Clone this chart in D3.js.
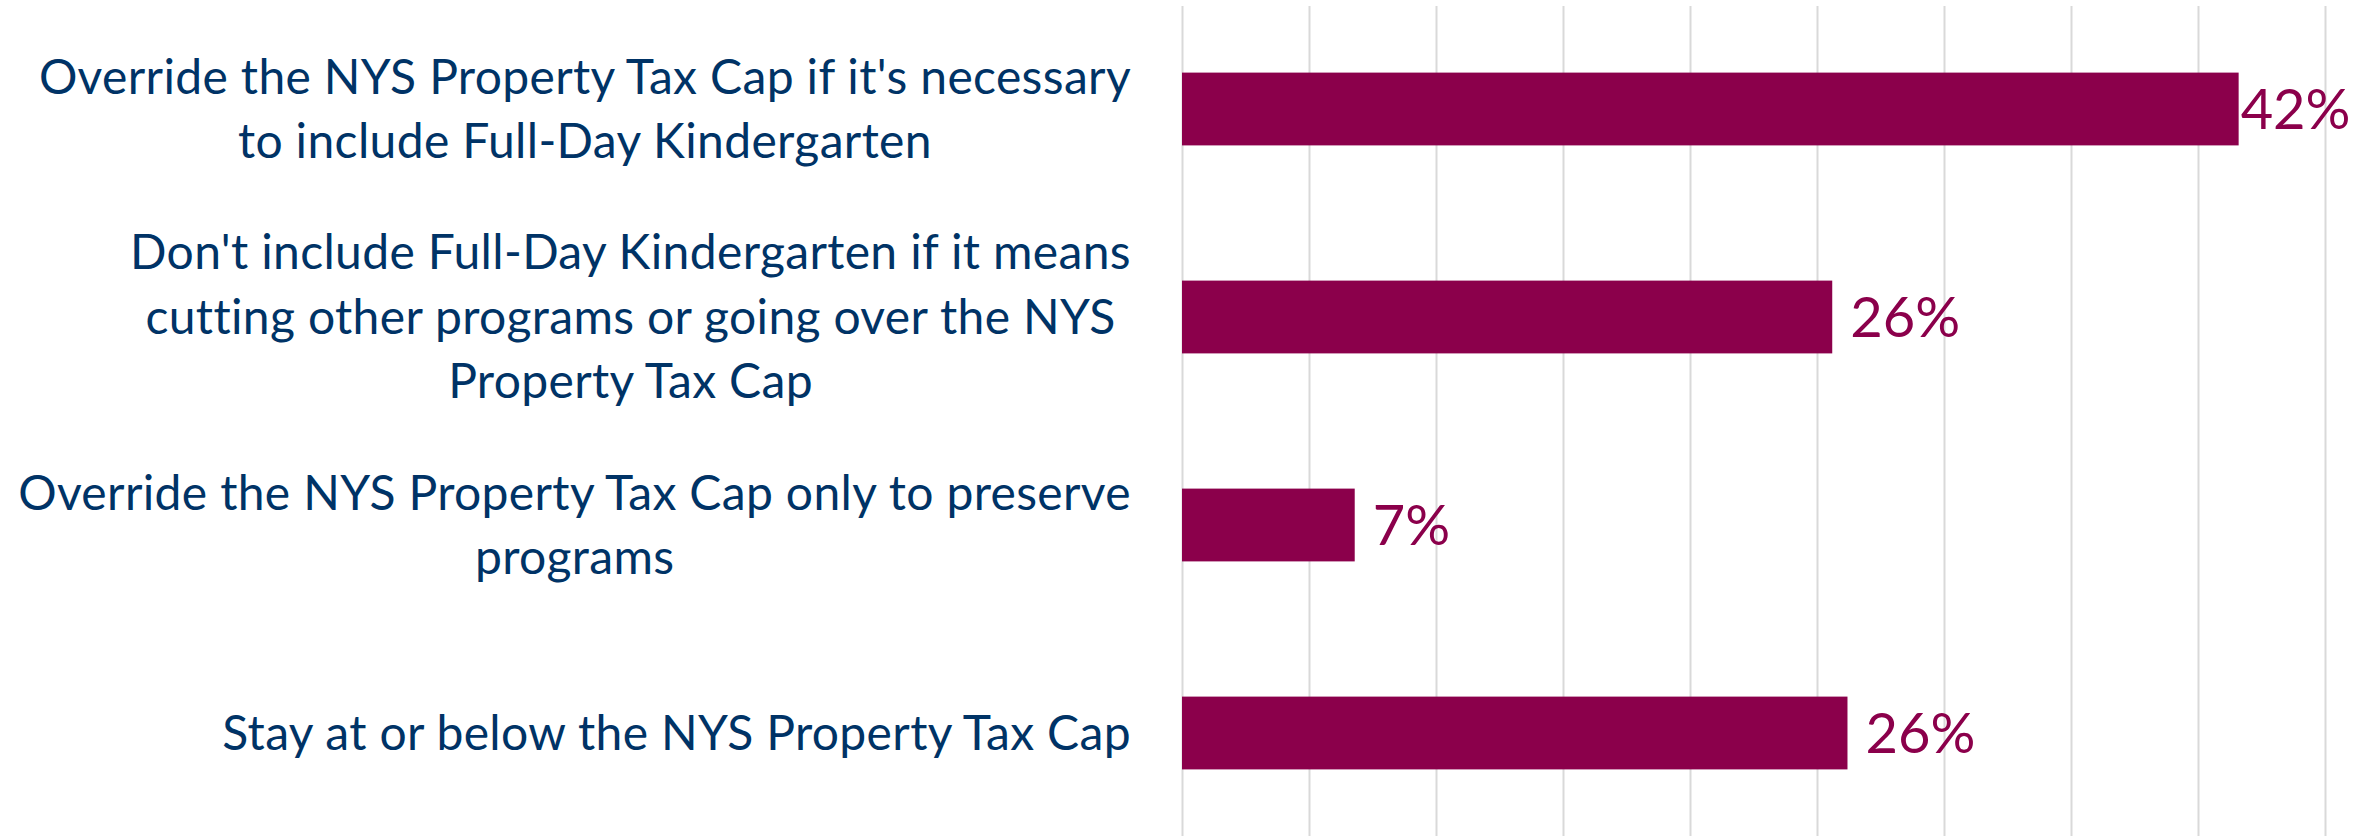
<!DOCTYPE html>
<html>
<head>
<meta charset="utf-8">
<script src="https://cdn.jsdelivr.net/npm/d3@7"></script>
<style>
  html, body { margin: 0; padding: 0; background: #ffffff; }
  svg { display: block; }
</style>
</head>
<body>
<svg id="chart" width="2376" height="836"></svg>
<script>
// Survey answers, one entry per bar, already split into display lines
const categories = [
  ["Override the NYS Property Tax Cap if it's necessary", "to include Full-Day Kindergarten"],
  ["Don't include Full-Day Kindergarten if it means", "cutting other programs or going over the NYS", "Property Tax Cap"],
  ["Override the NYS Property Tax Cap only to preserve", "programs"],
  ["Stay at or below the NYS Property Tax Cap"]
];

// Share of respondents choosing each answer
const values = [0.416, 0.256, 0.068, 0.262];

// Vertical gridline positions
const gridTicks = [0, 0.05, 0.10, 0.15, 0.20, 0.25, 0.30, 0.35, 0.40, 0.45];

const W = 2376, H = 836;
const barColor = "#8B004B";
const textColor = "#003366";
const gridColor = "#D9D9D9";
const font = "Lato, 'Open Sans', sans-serif";

const svg = d3.select("#chart");

const x = d3.scaleLinear().domain([0, 0.45]).range([1182, 2325]);
const y = d3.scaleBand()
  .domain(d3.range(categories.length))
  .range([5, 837])
  .paddingInner(0.65)
  .paddingOuter(0.325);

// gridlines
svg.append("g")
  .selectAll("line")
  .data(gridTicks)
  .join("line")
  .attr("x1", d => Math.round(x(d)) + 0.5)
  .attr("x2", d => Math.round(x(d)) + 0.5)
  .attr("y1", 6)
  .attr("y2", H)
  .attr("stroke", gridColor)
  .attr("stroke-width", 2);

// bars
svg.append("g")
  .selectAll("rect")
  .data(values)
  .join("rect")
  .attr("x", x(0))
  .attr("y", (d, i) => y(i))
  .attr("width", d => x(d) - x(0))
  .attr("height", y.bandwidth())
  .attr("fill", barColor);

// value labels
const fmt = d3.format(".0%");
const valueFont = 56;
const valLabels = svg.append("g")
  .selectAll("text")
  .data(values)
  .join("text")
  .attr("font-family", font)
  .attr("font-size", valueFont)
  .attr("fill", barColor)
  .attr("y", (d, i) => y(i) + y.bandwidth() / 2 + valueFont * 0.36)
  .text(d => fmt(d));
valLabels.each(function(d) {
  const w = this.getComputedTextLength();
  const rightLimit = 2346;
  let lx = x(d) + 18;
  if (lx + w > rightLimit) lx = Math.max(x(d) + 2, rightLimit - w);
  d3.select(this).attr("x", lx);
});

// category labels: block right-aligned to the plot, lines centred in the block
const labelFont = 48;
const lineGap = 64.5;
const capH = labelFont * 0.7;
const labelRight = 1131;
const labelG = svg.append("g");
categories.forEach((lines, i) => {
  const g = labelG.append("g");
  const texts = lines.map(line =>
    g.append("text")
      .attr("font-family", font)
      .attr("font-size", labelFont)
      .attr("letter-spacing", 0.35)
      .attr("fill", textColor)
      .attr("text-anchor", "middle")
      .text(line)
  );
  const maxW = d3.max(texts, t => t.node().getComputedTextLength());
  const cx = labelRight - maxW / 2;
  const mid = y(i) + y.bandwidth() / 2;
  const blockH = capH + lineGap * (lines.length - 1);
  const firstBase = mid - blockH / 2 + capH;
  texts.forEach((t, k) => t.attr("x", cx).attr("y", firstBase + k * lineGap));
});
</script>
</body>
</html>
